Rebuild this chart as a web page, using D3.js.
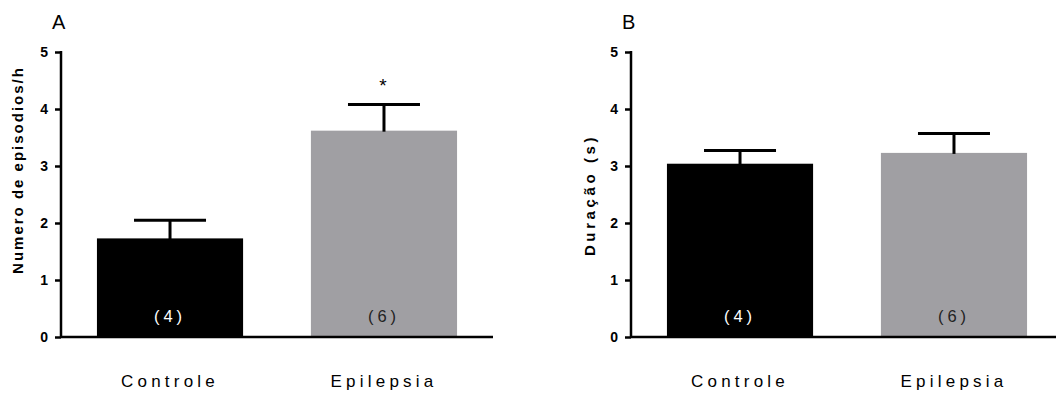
<!DOCTYPE html>
<html>
<head>
<meta charset="utf-8">
<script src="https://cdn.jsdelivr.net/npm/d3@7"></script>
<style>
  body { margin: 0; background: #fff; }
  svg { display: block; font-family: "Liberation Sans", Arial, sans-serif; }
</style>
</head>
<body>
<svg id="chart" width="1056" height="394"></svg>
<script>
// groups and n per group
const categories = ["Controle", "Epilepsia"];
const nLabels = ["(4)", "(6)"];
const barColors = ["#000000", "#a09fa3"];
const nColors = ["#ffffff", "#222222"];
const yTicks = [0, 1, 2, 3, 4, 5];

// panel A: episodes per hour (mean, SEM)
const episodesMean = [1.73, 3.62];
const episodesSem = [0.32, 0.46];
// panel B: duration in seconds (mean, SEM)
const durationMean = [3.04, 3.23];
const durationSem = [0.23, 0.34];

const panels = [
  { letter: "A", title: "Numero de episodios/h", mean: episodesMean, sem: episodesSem, x0: 61, titleX: 18, titleY: 170, titleSp: 2, stars: ["", "*"] },
  { letter: "B", title: "Duração (s)", mean: durationMean, sem: durationSem, x0: 631, titleX: 590, titleY: 195, titleSp: 3.6, stars: ["", ""] }
];

const svg = d3.select("#chart");
const yTop = 52, yBottom = 337, plotW = 432;

panels.forEach(p => {
  const g = svg.append("g");

  const x = d3.scaleBand()
    .domain(categories)
    .range([p.x0, p.x0 + plotW])
    .paddingInner(0.317)
    .paddingOuter(0.168);

  const y = d3.scaleLinear()
    .domain([0, 5])
    .range([yBottom, yTop]);

  // bars
  g.selectAll("rect.bar")
    .data(categories)
    .enter()
    .append("rect")
    .attr("x", d => x(d))
    .attr("width", x.bandwidth())
    .attr("y", (d, i) => y(p.mean[i]))
    .attr("height", (d, i) => y(0) - y(p.mean[i]))
    .attr("fill", (d, i) => barColors[i]);

  // error bars (upper only)
  const capW = 72;
  categories.forEach((c, i) => {
    const cx = x(c) + x.bandwidth() / 2;
    const top = y(p.mean[i] + p.sem[i]);
    g.append("line")
      .attr("x1", cx).attr("x2", cx)
      .attr("y1", y(p.mean[i]) + 1).attr("y2", top)
      .attr("stroke", "#000").attr("stroke-width", 3);
    g.append("line")
      .attr("x1", cx - capW / 2).attr("x2", cx + capW / 2)
      .attr("y1", top).attr("y2", top)
      .attr("stroke", "#000").attr("stroke-width", 3);
    if (p.stars[i]) {
      g.append("text")
        .attr("x", cx - 1).attr("y", top - 12)
        .attr("text-anchor", "middle")
        .attr("font-size", 19)
        .text(p.stars[i]);
    }
    // n label in bar
    g.append("text")
      .attr("x", cx).attr("y", 322)
      .attr("text-anchor", "middle")
      .attr("font-size", 16.5)
      .attr("letter-spacing", 4)
      .attr("fill", nColors[i])
      .text(nLabels[i]);
    // category label
    g.append("text")
      .attr("x", cx).attr("y", 387)
      .attr("text-anchor", "middle")
      .attr("font-size", 17)
      .attr("letter-spacing", 4.2)
      .attr("fill", "#000")
      .text(c);
  });

  // y axis
  const yAxis = g.append("g")
    .attr("transform", "translate(" + p.x0 + ",0)")
    .call(d3.axisLeft(y).tickValues(yTicks).tickSize(6).tickPadding(7).tickFormat(d3.format("d")));
  yAxis.select(".domain").attr("stroke-width", 2.5).attr("d", "M0," + (yTop - 1) + "V" + (yBottom + 1));
  yAxis.selectAll(".tick line").attr("stroke-width", 2.5);
  yAxis.attr("font-size", 14).attr("font-family", "Liberation Sans, Arial, sans-serif");
  yAxis.selectAll(".tick text")
    .attr("font-weight", "bold")
    .attr("fill", "#000");

  // x axis baseline
  g.append("line")
    .attr("x1", p.x0).attr("x2", p.x0 + plotW)
    .attr("y1", yBottom).attr("y2", yBottom)
    .attr("stroke", "#000").attr("stroke-width", 2.5);

  // y title
  g.append("text")
    .attr("transform", "translate(" + (p.titleX + 5) + "," + p.titleY + ") rotate(-90)")
    .attr("text-anchor", "middle")
    .attr("font-size", 15)
    .attr("font-weight", "bold")
    .attr("letter-spacing", p.titleSp)
    .text(p.title);

  // panel letter
  g.append("text")
    .attr("x", p.x0 - 9).attr("y", 29)
    .attr("font-size", 20)
    .text(p.letter);
});
</script>
</body>
</html>
